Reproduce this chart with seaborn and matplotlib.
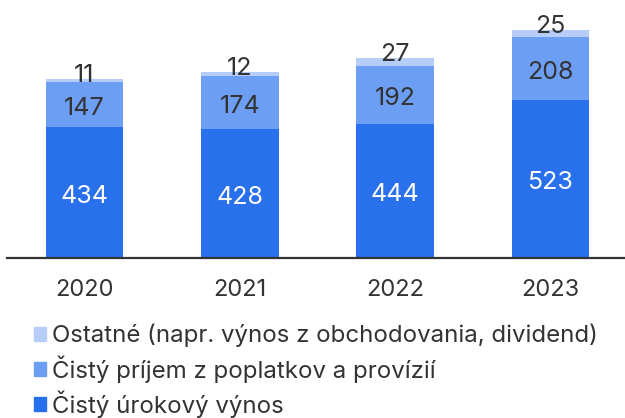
import pandas as pd
import seaborn as sns
import matplotlib.pyplot as plt
from matplotlib.patches import Patch
from matplotlib.transforms import offset_copy

years = ["2020", "2021", "2022", "2023"]
urokovy = [434, 428, 444, 523]
poplatky = [147, 174, 192, 208]
ostatne = [11, 12, 27, 25]

labels = [
    "Ostatné (napr. výnos z obchodovania, dividend)",
    "Čistý príjem z poplatkov a provízií",
    "Čistý úrokový výnos",
]
c_dark = "#2970ED"
c_mid = "#6C9EF3"
c_light = "#B5CDF8"

df = pd.DataFrame({"rok": years, "urok": urokovy, "popl": poplatky, "ost": ostatne})
df["s2"] = df["urok"] + df["popl"]
df["s3"] = df["s2"] + df["ost"]

sns.set_style("white")
plt.rcParams["font.family"] = ["Inter", "DejaVu Sans"]

fig = plt.figure(figsize=(6.25, 4.18), dpi=100)
ax = fig.add_axes([0.011, 0.383, 0.989, 0.617])

# stacked bars: draw cumulative totals from the top layer down
for col, c in [("s3", c_light), ("s2", c_mid), ("urok", c_dark)]:
    sns.barplot(data=df, x="rok", y=col, color=c, width=0.5, saturation=1,
                linewidth=0, ax=ax)

ax.set_xlim(-0.5, 3.48)
ax.set_ylim(0, 854)
ax.set_xlabel("")
ax.set_ylabel("")
ax.set_yticks([])
for s in ["top", "right", "left"]:
    ax.spines[s].set_visible(False)
ax.spines["bottom"].set_color("#333333")
ax.spines["bottom"].set_linewidth(1.6)
ax.tick_params(axis="x", length=0, labelsize=17, colors="#333333", pad=15)

above = offset_copy(ax.transData, fig=fig, x=0, y=-3, units="dots")
inside = offset_copy(ax.transData, fig=fig, x=0, y=-4, units="dots")
for i in range(len(years)):
    ax.text(i, df["urok"][i] / 2, str(urokovy[i]), ha="center", va="center",
            fontsize=18, color="white", transform=inside)
    ax.text(i, df["urok"][i] + poplatky[i] / 2, str(poplatky[i]), ha="center",
            va="center", fontsize=18, color="#333333", transform=inside)
    ax.text(i, df["s3"][i], str(ostatne[i]), ha="center", va="baseline",
            fontsize=18, color="#333333", transform=above)

handles = [Patch(color=c_light), Patch(color=c_mid), Patch(color=c_dark)]
fig.legend(handles, labels, loc="upper left", bbox_to_anchor=(0.054, 0.225),
           frameon=False, fontsize=17.3, handlelength=0.52, handleheight=0.52,
           handletextpad=0.25, labelspacing=0.32, borderaxespad=0,
           borderpad=0, labelcolor="#333333")

fig.savefig("out.png", dpi=100)
